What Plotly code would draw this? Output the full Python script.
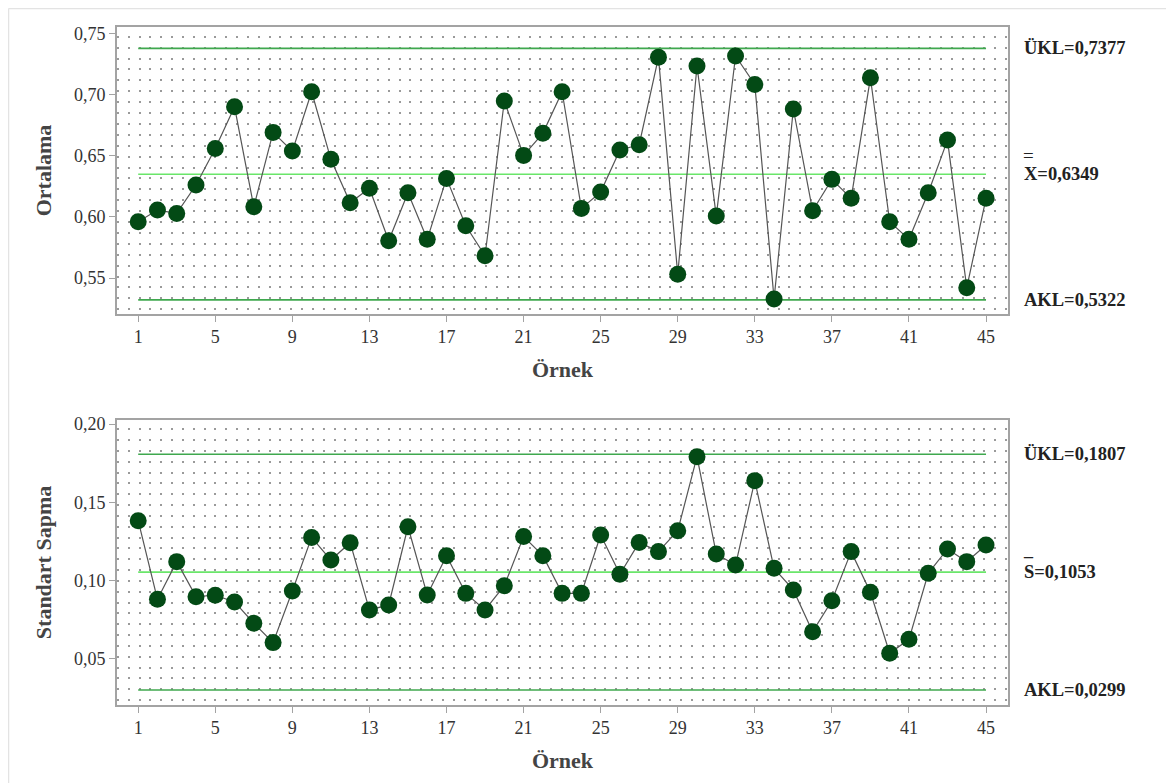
import plotly.graph_objects as go

# ---------------- data ----------------
samples = list(range(1, 46))

xbar_values = [0.5961, 0.6056, 0.6029, 0.6261, 0.6560, 0.6900, 0.6083, 0.6691, 0.6538, 0.7023,
               0.6471, 0.6116, 0.6234, 0.5806, 0.6198, 0.5817, 0.6315, 0.5928, 0.5683, 0.6947,
               0.6503, 0.6683, 0.7023, 0.6070, 0.6203, 0.6547, 0.6590, 0.7304, 0.5531, 0.7233,
               0.6007, 0.7315, 0.7083, 0.5330, 0.6882, 0.6051, 0.6307, 0.6152, 0.7137, 0.5961,
               0.5817, 0.6198, 0.6628, 0.5422, 0.6152]

s_values = [0.1382, 0.0879, 0.1120, 0.0896, 0.0905, 0.0862, 0.0726, 0.0602, 0.0932, 0.1275,
            0.1130, 0.1241, 0.0811, 0.0843, 0.1343, 0.0907, 0.1158, 0.0917, 0.0811, 0.0966,
            0.1280, 0.1158, 0.0917, 0.0917, 0.1290, 0.1039, 0.1243, 0.1184, 0.1318, 0.1791,
            0.1169, 0.1098, 0.1638, 0.1077, 0.0939, 0.0672, 0.0870, 0.1184, 0.0924, 0.0534,
            0.0623, 0.1045, 0.1201, 0.1120, 0.1226]

xbar_limits = {"ukl": 0.7377, "cl": 0.6349, "akl": 0.5322}
s_limits = {"ukl": 0.1807, "cl": 0.1053, "akl": 0.0299}

xbar_labels = {"ukl": "ÜKL=0,7377", "cl": "X=0,6349", "akl": "AKL=0,5322"}
s_labels = {"ukl": "ÜKL=0,1807", "cl": "S=0,1053", "akl": "AKL=0,0299"}

y_title_top = "Ortalama"
y_title_bottom = "Standart Sapma"
x_title = "Örnek"

# ---------------- styling ----------------
OFF = 8  # default page body margin
W, H = 1174 - OFF, 783 - OFF
ML, MR, MT, MB = 117 - OFF, 166, 27 - OFF, 78
SERIF = "Liberation Serif"
MARKER_COLOR = "#034a15"
LINE_COLOR = "#555555"
LIMIT_COLOR = "#3fa84e"
CL_COLOR = "#6ae66a"
DOT_COLOR = "#9a9a9a"
AXIS_COLOR = "#a3a3a3"

fig = go.Figure()

def add_chart(yvals, limits, xa, ya):
    for key in ("ukl", "akl", "cl"):
        fig.add_trace(go.Scatter(
            x=[samples[0], samples[-1]], y=[limits[key], limits[key]],
            mode="lines", xaxis=xa, yaxis=ya, hoverinfo="skip",
            line=dict(color=CL_COLOR if key == "cl" else LIMIT_COLOR, width=1.6),
            showlegend=False))
    fig.add_trace(go.Scatter(
        x=samples, y=yvals, mode="lines+markers", xaxis=xa, yaxis=ya,
        line=dict(color=LINE_COLOR, width=1.2),
        marker=dict(color=MARKER_COLOR, size=17, line=dict(width=0)),
        showlegend=False))

add_chart(xbar_values, xbar_limits, "x", "y")
add_chart(s_values, s_limits, "x2", "y2")

xaxis_common = dict(
    range=[-0.1, 46.14], tick0=1, dtick=4, ticks="outside", ticklen=6, tickwidth=1,
    tickcolor=AXIS_COLOR, showline=True, mirror=True, linecolor=AXIS_COLOR, linewidth=1.6,
    showgrid=False, zeroline=False,
    tickfont=dict(family=SERIF, size=18, color="#333333"),
    title=dict(text=x_title, standoff=15,
               font=dict(family=SERIF, size=22, color="#444444", weight="bold")),
)
yaxis_common = dict(
    ticks="outside", ticklen=6, tickwidth=1, tickcolor=AXIS_COLOR,
    showline=True, mirror=True, linecolor=AXIS_COLOR, linewidth=1.6,
    showgrid=False, zeroline=False, tickformat=".2f",
    tickfont=dict(family=SERIF, size=18, color="#333333"),
)

fig.update_layout(
    width=W, height=H,
    margin=dict(l=ML, r=MR, t=MT, b=MB),
    paper_bgcolor="white", plot_bgcolor="white",
    separators=",.",
    xaxis=dict(xaxis_common, domain=[0, 1], anchor="y"),
    xaxis2=dict(xaxis_common, domain=[0, 1], anchor="y2"),
    yaxis=dict(yaxis_common, domain=[0.5767, 1.0], anchor="x",
               range=[0.5207, 0.7552], dtick=0.05, tick0=0.5,
               minor=dict(tick0=0.74722, dtick=0.008905, showgrid=True,
                          gridcolor=DOT_COLOR, gridwidth=2, griddash="2px,8.83px", ticks=""),
               title=dict(text=y_title_top, standoff=16,
                          font=dict(family=SERIF, size=22, color="#444444", weight="bold"))),
    yaxis2=dict(yaxis_common, domain=[0.0, 0.4204], anchor="x2",
                range=[0.0203, 0.2026], dtick=0.05, tick0=0.0,
                minor=dict(tick0=0.19661, dtick=0.006925, showgrid=True,
                           gridcolor=DOT_COLOR, gridwidth=2, griddash="2px,8.83px", ticks=""),
                title=dict(text=y_title_bottom, standoff=16,
                           font=dict(family=SERIF, size=22, color="#444444", weight="bold"))),
)

pw = W - ML - MR
ph = H - MT - MB
def px_x(p):  # page pixel -> paper fraction
    return (p - OFF - ML) / pw
def px_y(p):
    return (H - MB - (p - OFF)) / ph

label_font = dict(family=SERIF, size=18.5, color="#222222", weight="bold")
lx = px_x(1022)
for labels, limits, yref in ((xbar_labels, xbar_limits, "y"), (s_labels, s_limits, "y2")):
    for key in ("ukl", "cl", "akl"):
        fig.add_annotation(x=lx, xref="paper", y=limits[key], yref=yref,
                           text=labels[key], showarrow=False, xanchor="left",
                           yanchor="middle", font=label_font)

# double bar over X and single bar over S
fig.add_annotation(x=px_x(1028.5), xref="paper", y=xbar_limits["cl"], yref="y",
                   text="=", showarrow=False, xanchor="center", yanchor="middle",
                   yshift=19, font=dict(family=SERIF, size=19, color="#222222"))
fig.add_annotation(x=px_x(1028.5), xref="paper", y=s_limits["cl"], yref="y2",
                   text="_", showarrow=False, xanchor="center", yanchor="bottom",
                   yshift=10, font=dict(family=SERIF, size=18, color="#222222", weight="bold"))

# light page frame (left and top)
fig.add_shape(type="line", xref="paper", yref="paper",
              x0=px_x(8.5), x1=px_x(8.5), y0=px_y(8.5), y1=px_y(783),
              line=dict(color="#e3e3e3", width=1.5))
fig.add_shape(type="line", xref="paper", yref="paper",
              x0=px_x(8.5), x1=px_x(1174), y0=px_y(8.5), y1=px_y(8.5),
              line=dict(color="#e3e3e3", width=1.5))

fig.write_html("out.html")
